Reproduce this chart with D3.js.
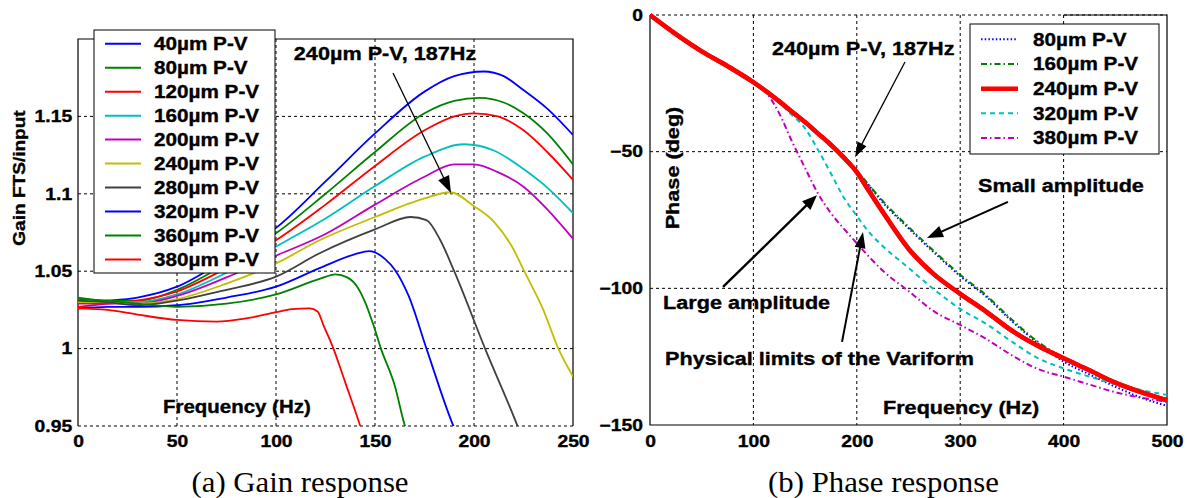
<!DOCTYPE html>
<html><head><meta charset="utf-8">
<script src="https://cdn.jsdelivr.net/npm/d3@7"></script>
<style>
html,body{margin:0;padding:0;background:#fff;}
svg{display:block;}
</style></head>
<body>
<svg id="chart" width="1187" height="498"></svg>
<script>
// ---------------- DATA ----------------
// (a) Gain response: [frequency Hz, gain]
const gainLabels = ["40µm P-V","80µm P-V","120µm P-V","160µm P-V","200µm P-V","240µm P-V","280µm P-V","320µm P-V","360µm P-V","380µm P-V"];
const gainColors = ["#0000ff","#008000","#ff0000","#00bfbf","#bf00bf","#bfbf00","#404040","#0000ff","#008000","#ff0000"];
const gain40  = [[0,1.030],[15,1.031],[30,1.033],[50,1.040],[75,1.058],[100,1.078],[125,1.108],[150,1.139],[175,1.166],[190,1.176],[205,1.179],[215,1.176],[225,1.167],[237,1.155],[250,1.138]];
const gain80  = [[0,1.033],[15,1.031],[30,1.031],[50,1.038],[75,1.055],[100,1.0745],[125,1.100],[150,1.127],[175,1.152],[190,1.160],[203,1.162],[215,1.159],[225,1.152],[237,1.139],[250,1.119]];
const gain120 = [[0,1.027],[15,1.029],[30,1.031],[50,1.037],[75,1.052],[100,1.070],[125,1.093],[150,1.118],[175,1.141],[190,1.150],[200,1.152],[212,1.150],[225,1.141],[237,1.127],[250,1.109]];
const gain160 = [[0,1.031],[15,1.030],[30,1.030],[50,1.035],[75,1.049],[100,1.066],[125,1.084],[150,1.105],[175,1.124],[195,1.132],[210,1.128],[225,1.116],[237,1.104],[250,1.0875]];
const gain200 = [[0,1.029],[15,1.029],[30,1.029],[50,1.034],[75,1.046],[100,1.060],[125,1.074],[150,1.093],[175,1.111],[190,1.119],[200,1.119],[212,1.114],[225,1.1046],[237,1.090],[250,1.071]];
const gain240 = [[0,1.030],[15,1.030],[30,1.029],[50,1.032],[75,1.042],[100,1.055],[122,1.070],[150,1.085],[175,1.097],[188,1.101],[200,1.092],[210,1.082],[220,1.064],[225,1.051],[235,1.025],[242.6,1.000],[250,0.982]];
const gain280 = [[0,1.031],[15,1.030],[30,1.028],[50,1.031],[75,1.038],[100,1.0465],[122,1.0616],[150,1.077],[168,1.085],[176,1.083],[183,1.070],[190,1.050],[205.6,1.000],[221.8,0.9506],[225,0.940]];
const gain320 = [[0,1.026],[15,1.027],[30,1.027],[50,1.028],[75,1.033],[100,1.040],[122,1.052],[140,1.061],[147,1.063],[155,1.058],[160,1.051],[167,1.034],[176,1.000],[189.4,0.9506],[193,0.940]];
const gain360 = [[0,1.032],[15,1.031],[30,1.029],[50,1.027],[75,1.029],[100,1.035],[122,1.045],[130,1.048],[136,1.046],[141,1.040],[145,1.030],[149,1.016],[153,1.000],[160,0.976],[165,0.9506],[168,0.940]];
const gain380 = [[0,1.026],[15,1.025],[30,1.022],[50,1.0185],[70,1.0174],[85,1.0195],[100,1.0235],[108,1.0255],[117,1.026],[121,1.024],[124,1.015],[129,1.000],[135,0.978],[142.4,0.9506],[145,0.940]];
const gainSeries = [gain40,gain80,gain120,gain160,gain200,gain240,gain280,gain320,gain360,gain380];
const gainXTicks = [0,50,100,150,200,250];
const gainYTicks = [0.95,1,1.05,1.1,1.15];
const gainYTickLabels = ["0.95","1","1.05","1.1","1.15"];

// (b) Phase response
const phaseFreq = [0,25,50,75,100,112,125,137,150,162,175,187,200,212,225,250,275,300,325,350,375,400,425,450,475,500];
const phase80  = [0,-6.8,-13.1,-18.5,-24.3,-27.5,-31.2,-35,-38.9,-42.8,-47,-51.5,-57,-62.5,-68.5,-78,-87,-95.5,-103,-112,-120,-126.8,-131.5,-136,-140,-143];
const phase160 = [0,-6.8,-13.1,-18.5,-24.3,-27.5,-31.2,-35,-38.9,-42.8,-47,-51.5,-57,-62.3,-68,-77.5,-86.5,-95,-102.5,-111.5,-119.5,-125.5,-130.5,-134.8,-138,-140.3];
const phase240 = [0,-7,-13.3,-18.7,-24.6,-27.8,-31.6,-35.3,-39.2,-43.2,-47.5,-52,-57.5,-64.5,-72,-85.5,-95,-102,-108.5,-115.5,-121,-125.6,-130,-134.5,-138,-141];
const phase320 = [0,-7,-13.3,-18.7,-24.6,-27.9,-32.2,-36.5,-41.5,-49,-58,-66.5,-73.5,-79.5,-84.5,-92.5,-100.5,-107.5,-113,-119.5,-125.5,-129.3,-132.3,-135,-137.2,-139];
const phase380 = [0,-7,-13.3,-18.7,-24.6,-28.2,-36,-46,-56,-65,-72.5,-78,-83.5,-88.5,-93.5,-101,-108.5,-113.4,-118.5,-124.5,-129.5,-132.3,-135.2,-138,-140,-141.5];
const phaseLabels = ["80µm P-V","160µm P-V","240µm P-V","320µm P-V","380µm P-V"];
const phaseColors = ["#0000ff","#008000","#ff0000","#00bfbf","#bf00bf"];
const phaseDash   = ["1.5,2.2","6,3,1.5,3","none","5,4","6,3,1.5,3"];
const phaseWidth  = [2,2,4.5,2,2];
const phaseSeries = [phase80,phase160,phase240,phase320,phase380];
const phaseXTicks = [0,100,200,300,400,500];
const phaseYTicks = [-150,-100,-50,0];

// Annotations (data coordinates)
const gainNotes = [{text:"240µm P-V, 187Hz", f:109, g:1.191}];
const gainArrows = [{f1:159.1,g1:1.178,f2:188.4,g2:1.1005,lw:1.3,hl:17,hw:12}];
const phaseNotes = [
  {text:"240µm P-V, 187Hz", f:118, p:-12.1},
  {text:"Small amplitude", f:317.2, p:-62.2},
  {text:"Large amplitude", f:12.6, p:-105},
  {text:"Physical limits of the Variform", f:14.5, p:-125.5}
];
const phaseArrows = [
  {f1:246.6,p1:-17.2,f2:198.3,p2:-52,lw:1.3,hl:15,hw:10},
  {f1:346.2,p1:-68.4,f2:267.9,p2:-81.6,lw:2,hl:16,hw:12},
  {f1:70.6,p1:-99.5,f2:161.5,p2:-65.9,lw:2.4,hl:15,hw:12},
  {f1:185.7,p1:-119.6,f2:206,p2:-79.4,lw:2,hl:16,hw:11}
];

// ---------------- DRAW ----------------
const SX = 1.17;
const SANS = "'Liberation Sans', Arial, sans-serif";
const svg = d3.select("#chart");

function arrow(g, x1, y1, x2, y2, lw, hl, hw) {
  const dx = x2 - x1, dy = y2 - y1, L = Math.hypot(dx, dy);
  const ux = dx / L, uy = dy / L;
  const bx = x2 - ux * hl, by = y2 - uy * hl;
  g.append("line").attr("x1", x1).attr("y1", y1).attr("x2", bx + ux*2).attr("y2", by + uy*2)
    .attr("stroke", "#000").attr("stroke-width", lw);
  g.append("path").attr("d", `M${x2},${y2}L${bx - uy*hw/2},${by + ux*hw/2}L${bx + uy*hw/2},${by - ux*hw/2}Z`)
    .attr("fill", "#000");
}
function label(g, x, y, text, size, anchor, rot) {
  return g.append("text").attr("transform", `translate(${x},${y})${rot ? " rotate(" + rot + ")" : ""} scale(${SX},1)`)
    .attr("text-anchor", anchor || "start").attr("dy", "0.36em")
    .attr("font-family", SANS).attr("font-weight", "bold").attr("font-size", size).attr("fill", "#000")
    .attr("stroke", "#000").attr("stroke-width", 0.35).text(text);
}

// ===== (a) Gain =====
const gx = d3.scaleLinear().domain([0, 250]).range([78, 573]);
const gy = d3.scaleLinear().domain([0.95, 1.2]).range([426, 39]);
const ga = svg.append("g");
ga.append("clipPath").attr("id", "clipA").append("rect")
  .attr("x", gx(0)).attr("y", gy(1.2)).attr("width", gx(250) - gx(0)).attr("height", gy(0.95) - gy(1.2));
// grid
ga.selectAll(".vg").data(gainXTicks.slice(1, -1)).join("line")
  .attr("x1", d => gx(d)).attr("x2", d => gx(d)).attr("y1", gy(1.2)).attr("y2", gy(0.95))
  .attr("stroke", "#000").attr("stroke-width", 1).attr("stroke-dasharray", "3,3");
ga.selectAll(".hg").data(gainYTicks).join("line")
  .attr("x1", gx(0)).attr("x2", gx(250)).attr("y1", d => gy(d)).attr("y2", d => gy(d))
  .attr("stroke", "#000").attr("stroke-width", 1).attr("stroke-dasharray", "3,3");
// box (left, top, right solid)
ga.append("path").attr("d", `M${gx(0)},${gy(0.95)}V${gy(1.2)}H${gx(250)}V${gy(0.95)}`)
  .attr("fill", "none").attr("stroke", "#000").attr("stroke-width", 1.2);
// curves
const gline = d3.line().x(d => gx(d[0])).y(d => gy(d[1])).curve(d3.curveMonotoneX);
ga.append("g").attr("clip-path", "url(#clipA)").selectAll("path").data(gainSeries).join("path")
  .attr("d", gline).attr("fill", "none").attr("stroke", (d, i) => gainColors[i]).attr("stroke-width", 1.8);
// axes
const gxAxis = ga.append("g").attr("transform", `translate(0,${gy(0.95)})`)
  .call(d3.axisBottom(gx).tickValues(gainXTicks).tickSize(0).tickPadding(9).tickFormat(d3.format("d")));
const gyAxis = ga.append("g").attr("transform", `translate(${gx(0)},0)`)
  .call(d3.axisLeft(gy).tickValues(gainYTicks).tickSize(0).tickPadding(5).tickFormat((d, i) => gainYTickLabels[i]));
[gxAxis, gyAxis].forEach(ax => {
  ax.select(".domain").remove();
  ax.selectAll("text").attr("font-family", SANS).attr("font-weight", "bold").attr("font-size", 16.5)
    .attr("fill", "#000").attr("stroke", "#000").attr("stroke-width", 0.35).attr("transform", `scale(${SX},1)`);
});
label(ga, 19, 178, "Gain FTS/input", 16.3, "middle", -90);
label(ga, gx(42.9), gy(0.9623), "Frequency (Hz)", 17.5, "start");
gainNotes.forEach(n => label(ga, gx(n.f), gy(n.g), n.text, 18.5, "start"));
gainArrows.forEach(a => arrow(ga, gx(a.f1), gy(a.g1), gx(a.f2), gy(a.g2), a.lw, a.hl, a.hw));
// legend
const gl = ga.append("g");
gl.append("rect").attr("x", 94).attr("y", 30).attr("width", 181).attr("height", 243)
  .attr("fill", "#fff").attr("stroke", "#000").attr("stroke-width", 1);
const gRow = d3.scalePoint().domain(gainLabels).range([43.7, 259.5]);
gainLabels.forEach((t, i) => {
  gl.append("line").attr("x1", 105).attr("x2", 141).attr("y1", gRow(t)).attr("y2", gRow(t))
    .attr("stroke", gainColors[i]).attr("stroke-width", 2);
  label(gl, 154, gRow(t), t, 17.7, "start");
});

// ===== (b) Phase =====
const px = d3.scaleLinear().domain([0, 500]).range([650, 1167]);
const py = d3.scaleLinear().domain([-150, 0]).range([425, 15]);
const pa = svg.append("g");
pa.append("clipPath").attr("id", "clipB").append("rect")
  .attr("x", px(0)).attr("y", py(0) - 3).attr("width", px(500) - px(0) + 3).attr("height", py(-150) - py(0) + 3);
pa.selectAll(".vg").data(phaseXTicks.slice(1, -1)).join("line")
  .attr("x1", d => px(d)).attr("x2", d => px(d)).attr("y1", py(0)).attr("y2", py(-150))
  .attr("stroke", "#000").attr("stroke-width", 1).attr("stroke-dasharray", "3,3");
pa.selectAll(".hg").data(phaseYTicks.slice(1)).join("line")
  .attr("x1", px(0)).attr("x2", px(500)).attr("y1", d => py(d)).attr("y2", d => py(d))
  .attr("stroke", "#000").attr("stroke-width", 1).attr("stroke-dasharray", "3,3");
pa.append("path").attr("d", `M${px(400)},${py(0)}H${px(500)}V${py(-150)}H${px(0)}V${py(0)}`)
  .attr("fill", "none").attr("stroke", "#000").attr("stroke-width", 1.2);
const pline = d3.line().x((d, i) => px(phaseFreq[i])).y(d => py(d)).curve(d3.curveMonotoneX);
pa.append("g").attr("clip-path", "url(#clipB)").selectAll("path").data(phaseSeries).join("path")
  .attr("d", pline).attr("fill", "none")
  .attr("stroke", (d, i) => phaseColors[i]).attr("stroke-width", (d, i) => phaseWidth[i])
  .attr("stroke-dasharray", (d, i) => phaseDash[i]);
pa.append("g").attr("clip-path", "url(#clipB)").append("path").datum(phase240)
  .attr("d", pline).attr("fill", "none").attr("stroke", "#ff0000").attr("stroke-width", 4.5);
const pxAxis = pa.append("g").attr("transform", `translate(0,${py(-150)})`)
  .call(d3.axisBottom(px).tickValues(phaseXTicks).tickSize(0).tickPadding(10).tickFormat(d3.format("d")));
const pyAxis = pa.append("g").attr("transform", `translate(${px(0)},0)`)
  .call(d3.axisLeft(py).tickValues(phaseYTicks).tickSize(0).tickPadding(6).tickFormat(d3.format("d")));
[pxAxis, pyAxis].forEach(ax => {
  ax.select(".domain").remove();
  ax.selectAll("text").attr("font-family", SANS).attr("font-weight", "bold").attr("font-size", 16.5)
    .attr("fill", "#000").attr("stroke", "#000").attr("stroke-width", 0.35).attr("transform", `scale(${SX},1)`);
});
label(pa, 672, 168, "Phase (deg)", 18.5, "middle", -90);
label(pa, px(225.3), py(-143.4), "Frequency (Hz)", 18.5, "start");
phaseNotes.forEach(n => label(pa, px(n.f), py(n.p), n.text, 18.5, "start"));
phaseArrows.forEach(a => arrow(pa, px(a.f1), py(a.p1), px(a.f2), py(a.p2), a.lw, a.hl, a.hw));
const pl = pa.append("g");
pl.append("rect").attr("x", 970).attr("y", 24).attr("width", 189).attr("height", 130)
  .attr("fill", "#fff").attr("stroke", "#000").attr("stroke-width", 1);
const pRow = d3.scalePoint().domain(phaseLabels).range([39.3, 138]);
phaseLabels.forEach((t, i) => {
  pl.append("line").attr("x1", 981).attr("x2", 1018).attr("y1", pRow(t)).attr("y2", pRow(t))
    .attr("stroke", phaseColors[i]).attr("stroke-width", phaseWidth[i]).attr("stroke-dasharray", phaseDash[i]);
  label(pl, 1033, pRow(t), t, 17.7, "start");
});

// captions
[["(a) Gain response", 300], ["(b) Phase response", 883.5]].forEach(c => {
  svg.append("text").attr("transform", `translate(${c[1]},492) scale(1.08,1)`).attr("text-anchor", "middle")
    .attr("font-family", "'Liberation Serif', 'Times New Roman', serif").attr("font-size", 28.5)
    .attr("fill", "#000").text(c[0]);
});
</script>
</body></html>
